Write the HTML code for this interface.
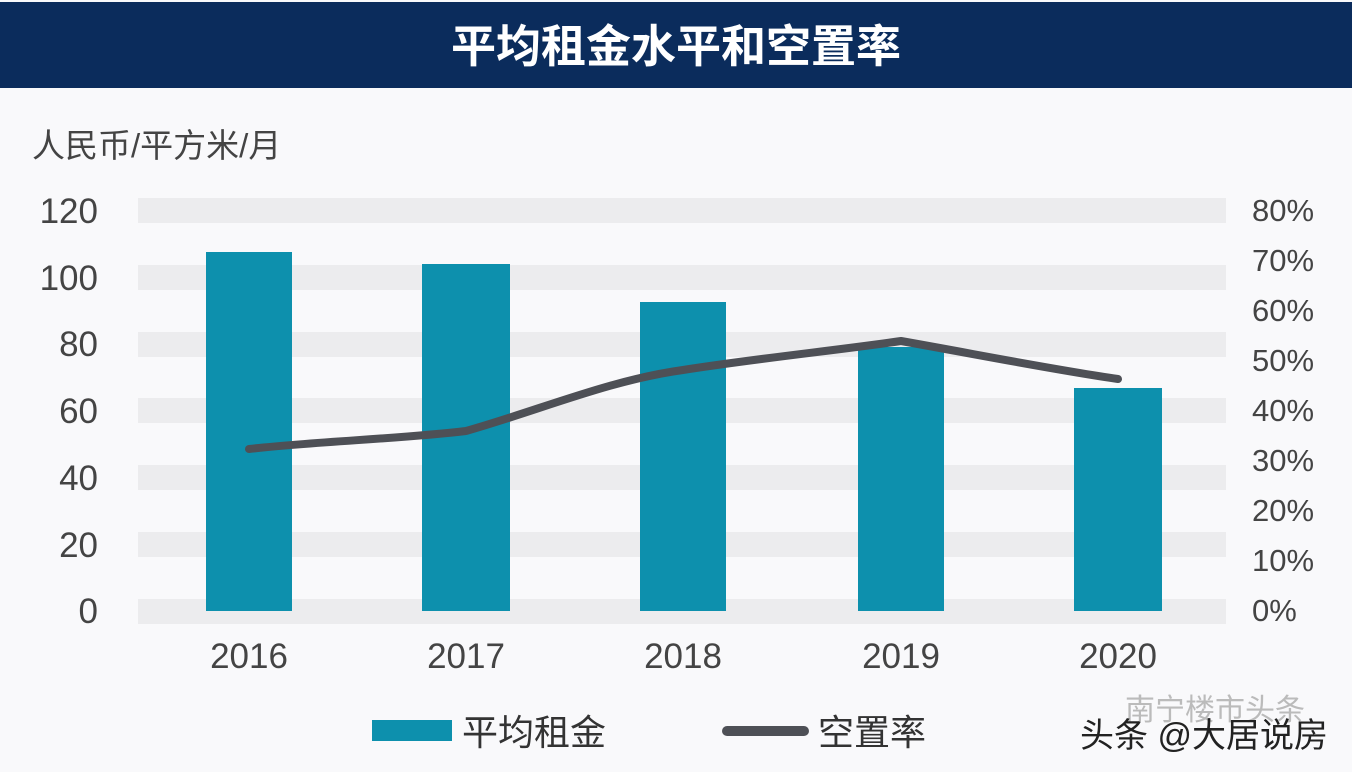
<!DOCTYPE html>
<html><head><meta charset="utf-8"><style>
html,body{margin:0;padding:0;background:#f9f9fb;}
body{width:1352px;height:772px;overflow:hidden;position:relative;font-family:"Liberation Sans","Noto Sans CJK SC",sans-serif;}
</style></head><body>
<svg width="1352" height="772" viewBox="0 0 1352 772" xmlns="http://www.w3.org/2000/svg" style="position:absolute;left:0;top:0">
<rect x="0" y="0" width="1352" height="772" fill="#f9f9fb"/>
<rect x="0" y="2" width="1352" height="86" fill="#0b2c5c"/>
<text x="676" y="62" text-anchor="middle" fill="#fff" font-size="45" font-weight="bold" font-family="Noto Sans CJK SC, sans-serif">平均租金水平和空置率</text>
<text x="32" y="157" fill="#444" font-size="33" font-family="Liberation Sans, Noto Sans CJK SC, sans-serif">人民币/平方米/月</text>
<g fill="#ececee">
<rect x="138" y="198" width="1088" height="25"/>
<rect x="138" y="265" width="1088" height="25"/>
<rect x="138" y="332" width="1088" height="25"/>
<rect x="138" y="398" width="1088" height="25"/>
<rect x="138" y="465" width="1088" height="25"/>
<rect x="138" y="532" width="1088" height="25"/>
<rect x="138" y="599" width="1088" height="25"/>
</g>
<g fill="#444" font-size="35" text-anchor="end" font-family="Liberation Sans, sans-serif">
<text x="98" y="223">120</text><text x="98" y="290">100</text><text x="98" y="356">80</text>
<text x="98" y="423">60</text><text x="98" y="490">40</text><text x="98" y="557">20</text><text x="98" y="623">0</text>
</g>
<g fill="#444" font-size="31" font-family="Liberation Sans, sans-serif">
<text x="1252" y="221">80%</text><text x="1252" y="271">70%</text><text x="1252" y="321">60%</text>
<text x="1252" y="371">50%</text><text x="1252" y="421">40%</text><text x="1252" y="471">30%</text>
<text x="1252" y="521">20%</text><text x="1252" y="571">10%</text><text x="1252" y="621">0%</text>
</g>
<g fill="#0d90ad">
<rect x="206" y="252" width="86" height="359"/>
<rect x="422" y="264" width="88" height="347"/>
<rect x="640" y="302" width="86" height="309"/>
<rect x="858" y="347" width="86" height="264"/>
<rect x="1074" y="388" width="88" height="223"/>
</g>
<path d="M249,449 C320,441 400,439 466,431 C540,410 610,380 683,370 C760,358 840,350 901,341 C980,355 1050,369 1118,379" fill="none" stroke="#4e5056" stroke-width="8" stroke-linecap="round"/>
<g fill="#444" font-size="35" text-anchor="middle" font-family="Liberation Sans, sans-serif">
<text x="249" y="668">2016</text><text x="466" y="668">2017</text><text x="683" y="668">2018</text>
<text x="901" y="668">2019</text><text x="1118" y="668">2020</text>
</g>
<rect x="372" y="720" width="80" height="21" fill="#0d90ad"/>
<text x="462" y="745" fill="#333" font-size="36" font-family="Noto Sans CJK SC, sans-serif">平均租金</text>
<line x1="727" y1="731" x2="804" y2="731" stroke="#4e5056" stroke-width="10" stroke-linecap="round"/>
<text x="818" y="745" fill="#333" font-size="36" font-family="Noto Sans CJK SC, sans-serif">空置率</text>
<text x="1125" y="720" fill="#bbb" font-size="30" font-family="Noto Sans CJK SC, sans-serif">南宁楼市头条</text>
<text x="1080" y="747" fill="#222" font-size="34" font-family="Liberation Sans, Noto Sans CJK SC, sans-serif">头条 @大居说房</text>
</svg>
</body></html>
